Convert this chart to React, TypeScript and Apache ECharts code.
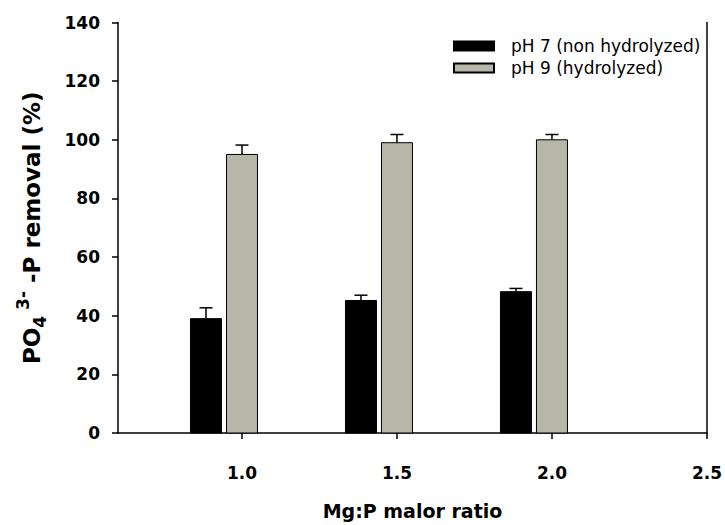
import React, { useEffect, useRef } from "react";
import * as echarts from "echarts";

const ratios = [1.0, 1.5, 2.0];
const ph7Values = [39, 45.2, 48.2];
const ph7Errors = [3.7, 1.8, 1.1];
const ph9Values = [95, 99, 100];
const ph9Errors = [3.2, 2.8, 1.8];
const xTicks = [1.0, 1.5, 2.0, 2.5];
const seriesNames = ["pH 7 (non hydrolyzed)", "pH 9 (hydrolyzed)"];
const seriesColors = ["#000000", "#b6b6a9"];

const FONT = "DejaVu Sans";

export default function App() {
  const ref = useRef<HTMLDivElement>(null);
  useEffect(() => {
    if (!ref.current) return;
    const chart = echarts.init(ref.current, undefined, { renderer: "svg" });
    const makeRender = (offset: number, color: string) => (params: any, api: any) => {
      const x = api.value(0);
      const y = api.value(1);
      const e = api.value(2);
      const base = api.coord([x, 0]);
      const top = api.coord([x, y]);
      const errTop = api.coord([x, y + e]);
      const w = 32;
      const cx = base[0] + offset;
      return {
        type: "group",
        children: [
          { type: "line", shape: { x1: cx, y1: top[1], x2: cx, y2: errTop[1] }, style: { stroke: "#000", lineWidth: 1.5 } },
          { type: "line", shape: { x1: cx - 6.5, y1: errTop[1], x2: cx + 6.5, y2: errTop[1] }, style: { stroke: "#000", lineWidth: 1.5 } },
          { type: "rect", shape: { x: cx - w / 2 + 0.5, y: top[1], width: w - 1, height: base[1] - top[1] }, style: { fill: color, stroke: "#000", lineWidth: 1 } },
        ],
      };
    };
    const option: any = {
      animation: false,
      backgroundColor: "#ffffff",
      grid: { left: 118, right: 16, top: 22.5, bottom: 84.5, containLabel: false },
      legend: {
        orient: "vertical",
        left: 453,
        top: 36,
        padding: 0,
        itemWidth: 40,
        itemHeight: 9,
        itemGap: 2,
        icon: "rect",
        data: seriesNames,
        textStyle: { fontFamily: FONT, fontSize: 17, lineHeight: 20, color: "#000", padding: [0, 0, 0, 12] },
        selectedMode: false,
      },
      xAxis: {
        type: "value",
        min: 0.6,
        max: 2.5,
        name: "Mg:P malor ratio",
        nameLocation: "middle",
        nameGap: 68,
        nameTextStyle: { fontFamily: FONT, fontWeight: "bold", fontSize: 19, color: "#000" },
        axisLine: { show: true, onZero: false, lineStyle: { color: "#000", width: 1.5 } },
        axisTick: { show: true, length: 6, lineStyle: { color: "#000", width: 1.5 }, customValues: xTicks },
        axisLabel: {
          customValues: xTicks,
          margin: 31,
          fontFamily: FONT,
          fontWeight: "bold",
          fontSize: 17,
          color: "#000",
          formatter: (v: number) => v.toFixed(1),
        },
        splitLine: { show: false },
      },
      yAxis: [
        {
          type: "value",
          min: 0,
          max: 140,
          interval: 20,
          name: "{b|PO}{sub|4}{sup| 3-}{b| -P removal (%)}",
          nameLocation: "middle",
          nameRotate: 90,
          nameGap: 68,
          nameTextStyle: {
            rich: {
              b: { fontFamily: FONT, fontWeight: "bold", fontSize: 23, color: "#000", lineHeight: 36, verticalAlign: "middle" },
              sub: { fontFamily: FONT, fontWeight: "bold", fontSize: 17, color: "#000", lineHeight: 36, verticalAlign: "bottom", padding: [0, 0, 2, 0] },
              sup: { fontFamily: FONT, fontWeight: "bold", fontSize: 17, color: "#000", lineHeight: 36, verticalAlign: "top" },
            },
          },
          axisLine: { show: true, lineStyle: { color: "#000", width: 1.5 } },
          axisTick: { show: true, length: 6, lineStyle: { color: "#000", width: 1.5 } },
          axisLabel: { margin: 18, fontFamily: FONT, fontWeight: "bold", fontSize: 17, color: "#000" },
          splitLine: { show: false },
        },
        {
          type: "value",
          min: 0,
          max: 140,
          interval: 20,
          position: "right",
          axisLine: { show: true, lineStyle: { color: "#000", width: 1.5 } },
          axisTick: { show: false },
          axisLabel: { show: false },
          splitLine: { show: false },
        },
      ],
      series: [
        {
          name: seriesNames[0],
          type: "custom",
          itemStyle: { color: seriesColors[0], borderColor: "#000", borderWidth: 1 },
          renderItem: makeRender(-36, seriesColors[0]),
          encode: { x: 0, y: [1, 2] },
          data: ratios.map((r, i) => [r, ph7Values[i], ph7Errors[i]]),
        },
        {
          name: seriesNames[1],
          type: "custom",
          itemStyle: { color: seriesColors[1], borderColor: "#000", borderWidth: 1 },
          renderItem: makeRender(0, seriesColors[1]),
          encode: { x: 0, y: [1, 2] },
          data: ratios.map((r, i) => [r, ph9Values[i], ph9Errors[i]]),
        },
      ],
    };
    chart.setOption(option);
    return () => chart.dispose();
  }, []);
  return <div ref={ref} style={{ position: "fixed", left: 0, top: 0, width: 725, height: 525 }} />;
}
